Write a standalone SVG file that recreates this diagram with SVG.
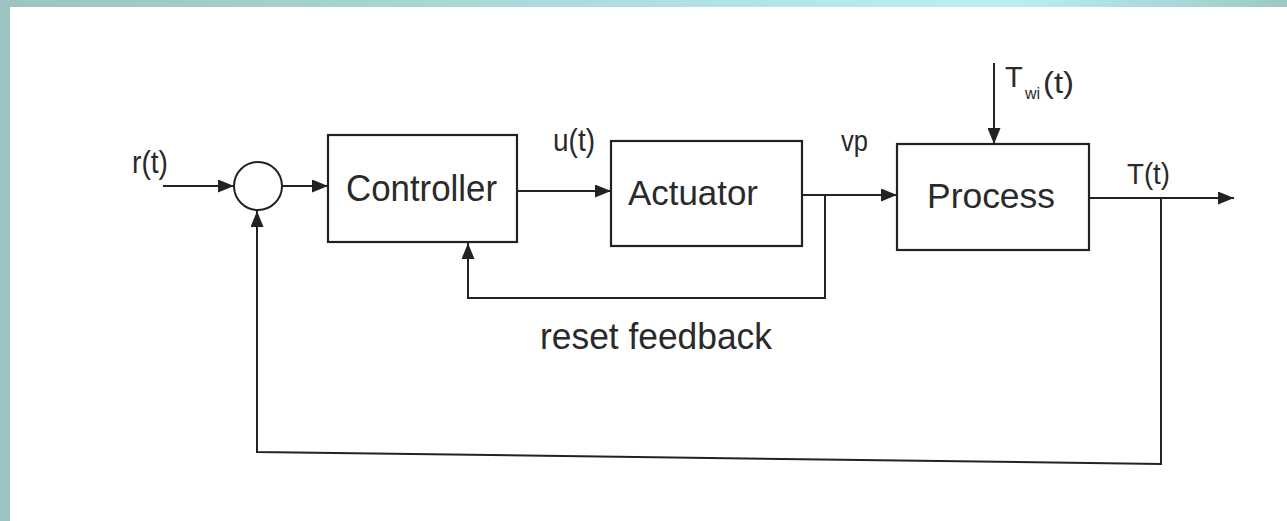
<svg xmlns="http://www.w3.org/2000/svg" width="1287" height="521" viewBox="0 0 1287 521">
<style>
.box{fill:#fff;stroke:#222;stroke-width:2.2}
.ln{fill:none;stroke:#222;stroke-width:2}
.t{font-family:"Liberation Sans",Arial,Helvetica,sans-serif;fill:#2a2a2a}
</style>
<defs>
<linearGradient id="topg" x1="0" y1="0" x2="1" y2="0">
<stop offset="0" stop-color="#9bc3c3"/>
<stop offset="0.78" stop-color="#bdeeee"/>
<stop offset="1" stop-color="#9ec8c8"/>
</linearGradient>
<marker id="ah" markerUnits="userSpaceOnUse" markerWidth="16" markerHeight="13" refX="16" refY="6.5" orient="auto">
<path d="M0,0 L16,6.5 L0,13 z" fill="#222"/>
</marker>
</defs>
<rect x="0" y="0" width="1287" height="521" fill="#fff"/>
<rect x="0" y="0" width="1287" height="7" fill="url(#topg)"/>
<rect x="0" y="0" width="10" height="521" fill="#9bc4c3"/>

<g id="summer"><circle cx="258" cy="186" r="24" fill="#fff" stroke="#222" stroke-width="2"/></g>
<g id="controller">
<rect class="box" x="328" y="135" width="189" height="107"/>
<text class="t" x="346" y="201" font-size="37" textLength="151" lengthAdjust="spacingAndGlyphs">Controller</text>
</g>
<g id="actuator">
<rect class="box" x="611" y="141" width="191" height="105"/>
<text class="t" x="628" y="205" font-size="35" textLength="130" lengthAdjust="spacingAndGlyphs">Actuator</text>
</g>
<g id="process">
<rect class="box" x="897" y="144" width="192" height="106"/>
<text class="t" x="927" y="208" font-size="35" textLength="128" lengthAdjust="spacingAndGlyphs">Process</text>
</g>

<g id="connectors">
<path class="ln" d="M163,186 H234" marker-end="url(#ah)"/>
<path class="ln" d="M282,186 H328" marker-end="url(#ah)"/>
<path class="ln" d="M517,191 H611" marker-end="url(#ah)"/>
<path class="ln" d="M802,195 H897" marker-end="url(#ah)"/>
<path class="ln" d="M825,195 V298 H468 V243" marker-end="url(#ah)"/>
<path class="ln" d="M994,63 V144" marker-end="url(#ah)"/>
<path class="ln" d="M1089,198 H1234" marker-end="url(#ah)"/>
<path class="ln" d="M1161,198 V464 L257,452 V211" marker-end="url(#ah)"/>
</g>

<g id="labels">
<text class="t" x="132" y="173" font-size="31" textLength="36" lengthAdjust="spacingAndGlyphs">r(t)</text>
<text class="t" x="553" y="151" font-size="31" textLength="42" lengthAdjust="spacingAndGlyphs">u(t)</text>
<text class="t" x="841" y="151" font-size="30" textLength="27" lengthAdjust="spacingAndGlyphs">vp</text>
<text class="t" x="1005" y="87" font-size="29">T</text>
<text class="t" x="1025" y="99" font-size="16">wi</text>
<text class="t" x="1043" y="93" font-size="29" textLength="31" lengthAdjust="spacingAndGlyphs">(t)</text>
<text class="t" x="1127" y="184" font-size="30" textLength="43" lengthAdjust="spacingAndGlyphs">T(t)</text>
<text class="t" x="540" y="349" font-size="36" textLength="232" lengthAdjust="spacingAndGlyphs">reset feedback</text>
</g>
</svg>
